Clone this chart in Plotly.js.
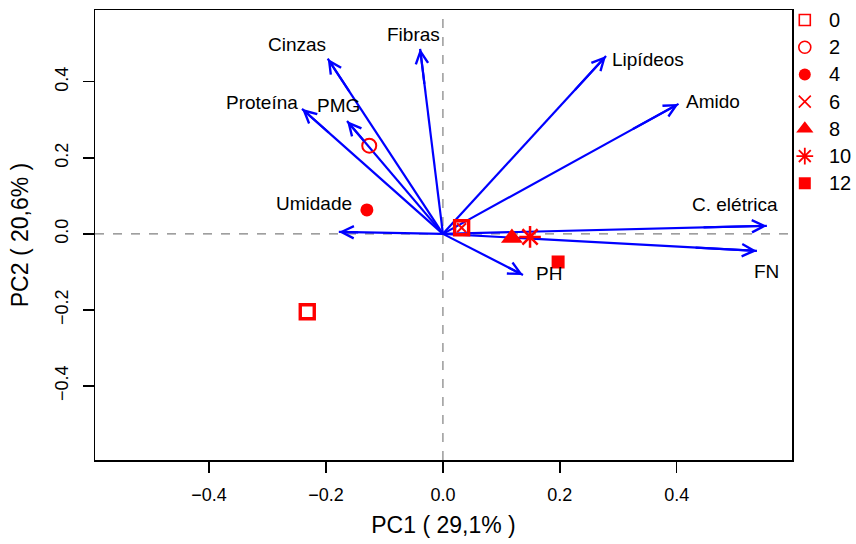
<!DOCTYPE html>
<html>
<head>
<meta charset="utf-8">
<script src="https://cdn.plot.ly/plotly-3.0.1.min.js"></script>
<style>html,body{margin:0;padding:0;background:#fff;}#chart{width:856px;height:544px;}</style>
</head>
<body>
<div id="chart"></div>
<script>
// Variable loadings (arrow tips) and their label positions
const varNames = ['Cinzas','Fibras','Proteína','PMG','Umidade','Lipídeos','Amido','C. elétrica','FN','PH'];
const loadPC1 = [-0.197,-0.039,-0.241,-0.164,-0.178,0.279,0.403,0.554,0.537,0.137];
const loadPC2 = [0.461,0.487,0.329,0.297,0.005,0.468,0.342,0.021,-0.045,-0.108];
const labelPC1 = [-0.250,-0.050,-0.309,-0.179,-0.221,0.350,0.462,0.499,0.554,0.181];
const labelPC2 = [0.497,0.524,0.345,0.337,0.079,0.458,0.347,0.076,-0.100,-0.103];

// Treatment scores
const groupNames = ['0','2','4','6','8','10','12'];
const scoreGroup = ['0','0','2','4','6','8','10','12'];
const scorePC1 = [-0.232, 0.032, -0.126, -0.130, 0.032, 0.118, 0.149, 0.197];
const scorePC2 = [-0.205, 0.016, 0.232, 0.063, 0.016, -0.011, -0.008, -0.074];

// Axis info
const xTitle = 'PC1 ( 29,1% )';
const yTitle = 'PC2 ( 20,6% )';
const tickVals = [-0.4,-0.2,0,0.2,0.4];

const RED = '#ff0000', BLUE = '#0000ff';
const FONT = 'Liberation Sans, Arial, sans-serif';
const styles = {
  '0':  {symbol:'square-open', size:14, lw:3.4, legSize:11, legLw:1.6},
  '2':  {symbol:'circle-open', size:14, lw:2, legSize:12, legLw:1.6},
  '4':  {symbol:'circle', size:13, lw:0, legSize:12, legLw:0},
  '6':  {symbol:'x-thin-open', size:9, lw:2, legSize:12, legLw:1.6},
  '8':  {symbol:'triangle-up', size:19, lw:0, legSize:15, legLw:0},
  '10': {symbol:'asterisk-open', size:18, lw:2.5, legSize:14, legLw:1.8},
  '12': {symbol:'square', size:13, lw:0, legSize:12, legLw:0}
};

const traces = [];
// arrow shafts
const sx = [], sy = [];
for (let i = 0; i < varNames.length; i++) {
  sx.push(0, loadPC1[i], null);
  sy.push(0, loadPC2[i], null);
}
traces.push({x: sx, y: sy, mode:'lines', line:{color:BLUE, width:2.2}, showlegend:false, hoverinfo:'skip'});

// score points
groupNames.forEach(g => {
  const xs = [], ys = [];
  scoreGroup.forEach((sg, k) => { if (sg === g) { xs.push(scorePC1[k]); ys.push(scorePC2[k]); } });
  const s = styles[g];
  traces.push({x: xs, y: ys, mode:'markers', name:g, showlegend:false,
    marker:{symbol:s.symbol, size:s.size, color:RED, line:{color:RED, width:s.lw}}});
});

// hand-made legend on a hidden side axis
const annotations = [];
groupNames.forEach((g, i) => {
  const s = styles[g];
  traces.push({x:[0.2], y:[i], xaxis:'x2', yaxis:'y2', mode:'markers', showlegend:false,
    marker:{symbol:s.symbol, size:s.legSize, color:RED, line:{color:RED, width:s.legLw}}});
  annotations.push({x:0.54, y:i, xref:'x2', yref:'y2', showarrow:false, text:g,
    xanchor:'left', yanchor:'middle', font:{family:FONT, size:20, color:'#000'}});
});

for (let i = 0; i < varNames.length; i++) {
  annotations.push({x: loadPC1[i], y: loadPC2[i], xref:'x', yref:'y',
    ax: loadPC1[i]*0.8, ay: loadPC2[i]*0.8, axref:'x', ayref:'y',
    showarrow:true, arrowhead:5, arrowsize:1.1, arrowwidth:2.2, arrowcolor:BLUE,
    text:' ', font:{size:1}, standoff:0});
  annotations.push({x: labelPC1[i], y: labelPC2[i], xref:'x', yref:'y', showarrow:false,
    text: varNames[i], font:{family:FONT, size:19, color:'#000'},
    xanchor:'center', yanchor:'middle'});
}

const mainEnd = 697/761;
const layout = {
  width:856, height:544,
  margin:{l:95, r:0, t:10, b:84},
  paper_bgcolor:'#fff', plot_bgcolor:'rgba(0,0,0,0)',
  font:{family:FONT, color:'#000'},
  showlegend:false,
  xaxis:{domain:[0, mainEnd], range:[-0.595,0.597], tickvals:tickVals, tickformat:'.1f', ticks:'outside', ticklen:11,
    tickwidth:1.3, tickcolor:'#000', showline:true, mirror:true, linecolor:'#000', linewidth:1.5,
    showgrid:false, zeroline:false, tickfont:{size:18}, ticklabelstandoff:7,
    title:{text:xTitle, font:{size:23}, standoff:13}},
  yaxis:{range:[-0.595,0.589], tickvals:tickVals, tickformat:'.1f', ticks:'outside', ticklen:11,
    tickwidth:1.3, tickcolor:'#000', showline:true, mirror:true, linecolor:'#000', linewidth:1.5,
    showgrid:false, zeroline:false, tickfont:{size:18}, tickangle:-90, ticklabelstandoff:7,
    title:{text:yTitle, font:{size:23}, standoff:17}},
  xaxis2:{domain:[mainEnd, 1], range:[0,1], visible:false, anchor:'y2', fixedrange:true},
  yaxis2:{domain:[0,1], range:[16.17,-0.368], visible:false, anchor:'x2', fixedrange:true},
  shapes:[
    {type:'line', xref:'x', yref:'y domain', x0:0, x1:0, y0:0, y1:1, layer:'below', line:{color:'#808080', width:1.2, dash:'dash'}},
    {type:'line', xref:'x domain', yref:'y', x0:0, x1:1, y0:0, y1:0, layer:'below', line:{color:'#808080', width:1.2, dash:'dash'}}
  ],
  annotations: annotations
};

Plotly.newPlot('chart', traces, layout, {displayModeBar:false, staticPlot:true});
</script>
</body>
</html>
